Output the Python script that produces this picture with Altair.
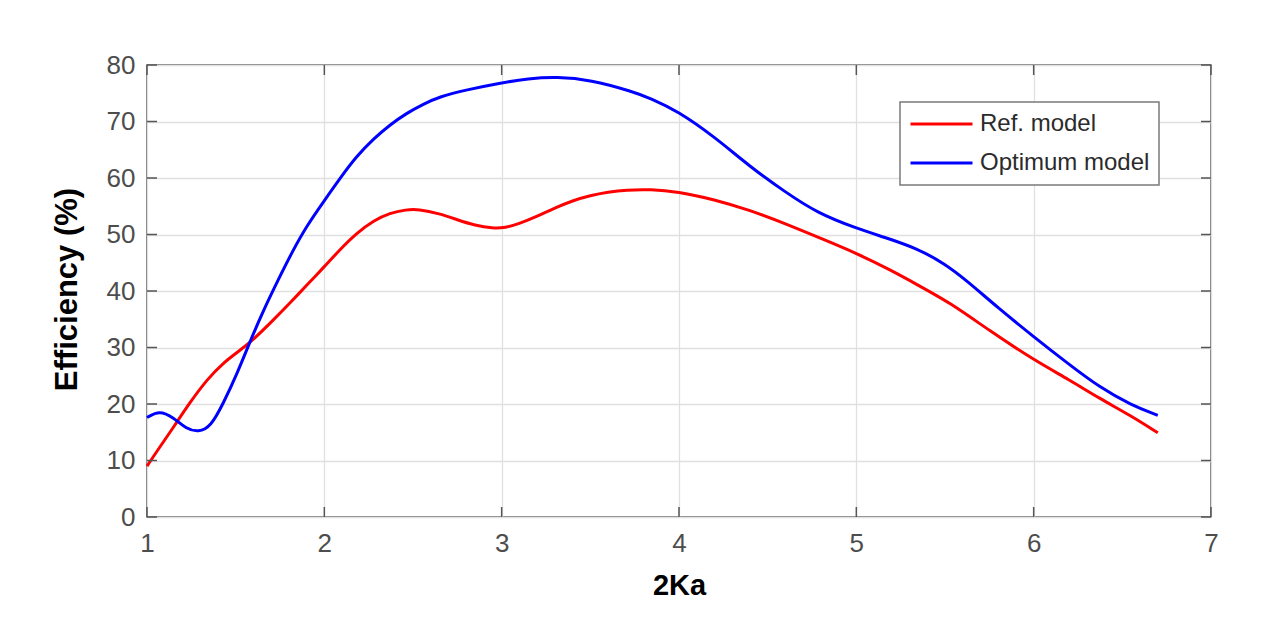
import altair as alt
import pandas as pd

# Ref. model (red)
ref_x = [1.0, 1.07, 1.15, 1.24, 1.34, 1.43, 1.52, 1.6, 1.71, 1.81, 1.9, 2.0, 2.09, 2.18, 2.28,
         2.37, 2.46, 2.53, 2.65, 2.75, 2.85, 2.95, 3.02, 3.1, 3.2, 3.3, 3.4, 3.5, 3.6, 3.7,
         3.84, 3.99, 4.2, 4.4, 4.6, 4.8, 5.0, 5.2, 5.35, 5.53, 5.75, 6.0, 6.2, 6.37, 6.55, 6.7]
ref_y = [9.0, 12.3, 15.9, 20.2, 24.4, 27.3, 29.4, 31.4, 34.8, 38.0, 41.0, 44.3, 47.4, 50.2, 52.5,
         53.8, 54.4, 54.5, 53.7, 52.6, 51.6, 51.1, 51.2, 51.9, 53.2, 54.7, 56.0, 56.9, 57.5, 57.9,
         58.0, 57.6, 56.2, 54.3, 51.9, 49.3, 46.7, 43.6, 41.0, 37.9, 33.0, 27.8, 24.3, 21.0, 17.9, 14.9]

# Optimum model (blue)
opt_x = [1.0, 1.07, 1.15, 1.22, 1.29, 1.36, 1.43, 1.51, 1.58, 1.66, 1.74, 1.82, 1.9, 2.0, 2.09,
         2.18, 2.28, 2.37, 2.46, 2.56, 2.65, 2.8, 2.99, 3.15, 3.31, 3.5, 3.74, 3.84, 3.99, 4.2,
         4.4, 4.6, 4.78, 5.0, 5.15, 5.34, 5.5, 5.62, 5.8, 6.0, 6.2, 6.37, 6.55, 6.7]
opt_y = [17.6, 18.9, 17.6, 15.6, 15.0, 16.0, 20.1, 25.5, 31.0, 36.8, 42.0, 47.0, 51.5, 56.0, 60.0,
         63.8, 67.0, 69.4, 71.4, 73.1, 74.4, 75.6, 76.8, 77.6, 77.9, 77.4, 75.3, 74.1, 71.9, 67.3,
         62.0, 57.5, 53.8, 51.1, 49.6, 47.6, 44.8, 41.9, 37.0, 31.9, 27.0, 23.0, 19.8, 18.0]

series_names = ["Ref. model", "Optimum model"]
series_colors = ["#ff0000", "#0000ff"]
x_ticks = [1, 2, 3, 4, 5, 6, 7]
y_ticks = [0, 10, 20, 30, 40, 50, 60, 70, 80]

df = pd.concat([
    pd.DataFrame({"x": ref_x, "y": ref_y, "series": series_names[0], "order": range(len(ref_x))}),
    pd.DataFrame({"x": opt_x, "y": opt_y, "series": series_names[1], "order": range(len(opt_x))}),
])
xt = pd.DataFrame({"t": x_ticks})
yt = pd.DataFrame({"t": y_ticks})

W, H = 1064, 452
TICK = 10
FONT = "Liberation Sans"
FRAME = "#555555"
xs = alt.Scale(domain=[1, 7], nice=False, zero=False)
ys = alt.Scale(domain=[0, 80], nice=False)

lines = alt.Chart(df).mark_line(strokeWidth=3, interpolate="basis").encode(
    x=alt.X("x:Q", scale=xs, axis=alt.Axis(
        orient="bottom", values=x_ticks, title="2Ka", ticks=False, domain=False,
        grid=True, gridColor="#e0e0e0", gridWidth=1.3, labelFlush=False,
        labelFont=FONT, labelFontSize=26, labelColor="#4d4d4d", labelPadding=13,
        titleFont=FONT, titleFontSize=29, titleFontWeight="bold", titleColor="#000000",
        titleY=68, titleBaseline="middle", format="d")),
    y=alt.Y("y:Q", scale=ys, axis=alt.Axis(
        orient="left", values=y_ticks, title="Efficiency (%)", ticks=False, domain=False,
        grid=True, gridColor="#e0e0e0", gridWidth=1.3, labelFlush=False,
        labelFont=FONT, labelFontSize=26, labelColor="#4d4d4d", labelPadding=12,
        titleFont=FONT, titleFontSize=31, titleFontWeight="bold", titleColor="#000000",
        titleX=-80, titleY=224, titleAngle=270, titleAlign="center", titleBaseline="middle")),
    color=alt.Color("series:N", scale=alt.Scale(domain=series_names, range=series_colors),
                    sort=series_names,
                    legend=alt.Legend(
                        title=None, orient="none", legendX=753, legendY=37,
                        symbolType="stroke", symbolSize=3844, symbolStrokeWidth=3,
                        labelFont=FONT, labelFontSize=24, labelColor="#2b2b2b",
                        labelOffset=6, labelLimit=0, clipHeight=26, rowPadding=13,
                        padding=9, fillColor="#ffffff", strokeColor="#7a7a7a")),
    order="order:Q",
)

tick_style = dict(color=FRAME, strokeWidth=1.5)
xtick_bottom = alt.Chart(xt).mark_rule(**tick_style).encode(
    x=alt.X("t:Q", scale=xs, axis=None), y=alt.value(H - TICK), y2=alt.value(H))
xtick_top = alt.Chart(xt).mark_rule(**tick_style).encode(
    x=alt.X("t:Q", scale=xs, axis=None), y=alt.value(0), y2=alt.value(TICK))
ytick_left = alt.Chart(yt).mark_rule(**tick_style).encode(
    y=alt.Y("t:Q", scale=ys, axis=None), x=alt.value(0), x2=alt.value(TICK))
ytick_right = alt.Chart(yt).mark_rule(**tick_style).encode(
    y=alt.Y("t:Q", scale=ys, axis=None), x=alt.value(W - TICK), x2=alt.value(W))

chart = alt.layer(lines, xtick_bottom, xtick_top, ytick_left, ytick_right).resolve_axis(
    x="independent", y="independent"
).properties(
    width=W, height=H,
    autosize=alt.AutoSizeParams(type="none"),
    padding={"left": 139, "top": 57, "right": 56, "bottom": 100},
    background="#ffffff",
).configure_view(stroke=FRAME, strokeWidth=1.5).configure_legend(strokeWidth=1.5)

chart.save("out.html", embed_options={"renderer": "svg", "actions": False})
